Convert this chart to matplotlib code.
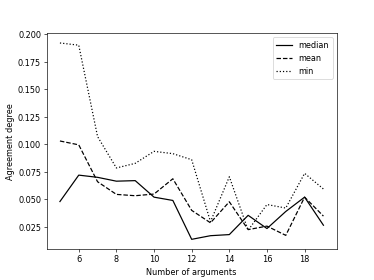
import matplotlib
matplotlib.use("Agg")
import matplotlib.pyplot as plt

# number of arguments on the x axis
n_args = [5, 6, 7, 8, 9, 10, 11, 12, 13, 14, 15, 16, 17, 18, 19]

# agreement degree per statistic
median_vals = [0.048, 0.072, 0.070, 0.0665, 0.067, 0.052, 0.049, 0.0137, 0.017, 0.018, 0.0355, 0.0235, 0.039, 0.052, 0.0265]
mean_vals = [0.103, 0.0995, 0.066, 0.0545, 0.0533, 0.0548, 0.0687, 0.040, 0.0287, 0.0478, 0.0225, 0.0257, 0.0173, 0.052, 0.0348]
min_vals = [0.192, 0.190, 0.107, 0.0785, 0.0827, 0.0936, 0.0915, 0.086, 0.0297, 0.0705, 0.022, 0.0453, 0.0421, 0.0736, 0.0594]

fig, ax = plt.subplots(figsize=(6.4, 4.8), dpi=374 / 6.4)

ax.plot(n_args, median_vals, "k-", label="median")
ax.plot(n_args, mean_vals, "k--", label="mean")
ax.plot(n_args, min_vals, "k:", label="min")

ax.set_xlabel("Number of arguments")
ax.set_ylabel("Agreement degree")
ax.legend(loc="upper right")

fig.savefig("out.png", dpi=374 / 6.4)
